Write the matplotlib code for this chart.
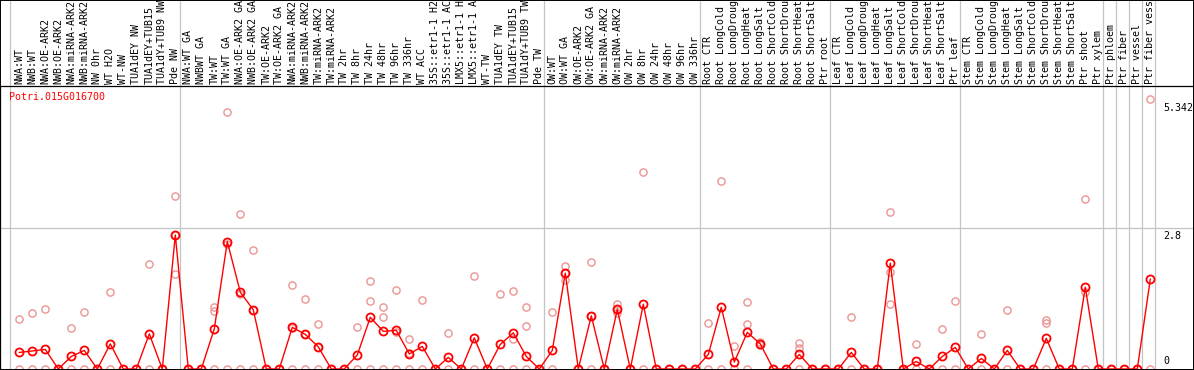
import numpy as np
import matplotlib
matplotlib.use("Agg")
import matplotlib.pyplot as plt
import matplotlib.transforms as mtransforms
from matplotlib.patches import Rectangle

nan = np.nan

# nombres de las muestras (como se ven, recortados)
Muestras = ["NWA:WT", "NWB:WT", "NWA:OE-ARK2", "NWB:OE-ARK2", "NWA:miRNA-ARK2",
            "NWB:miRNA-ARK2", "NW 0hr", "WT H2O", "WT-NW", "TUA1dEY NW",
            "TUA1dEY+TUB15", "TUA1dY+TUB9 NW", "Pde NW",
            "NWA:WT GA", "NWBWT GA", "TW:WT", "TW:WT GA", "NWA:OE-ARK2 GA",
            "NWB:OE-ARK2 GA", "TW:OE-ARK2", "TW:OE-ARK2 GA", "NWA:miRNA-ARK2",
            "NWB:miRNA-ARK2", "TW:miRNA-ARK2", "TW:miRNA-ARK2", "TW 2hr", "TW 8hr",
            "TW 24hr", "TW 48hr", "TW 96hr", "TW 336hr", "WT ACC", "35S::etr1-1 H2",
            "35S::etr1-1 AC", "LMX5::etr1-1 H", "LMX5::etr1-1 A", "WT-TW",
            "TUA1dEY TW", "TUA1dEY+TUB15", "TUA1dY+TUB9 TW", "Pde TW",
            "OW:WT", "OW:WT GA", "OW:OE-ARK2", "OW:OE-ARK2 GA", "OW:miRNA-ARK2",
            "OW:miRNA-ARK2", "OW 2hr", "OW 8hr", "OW 24hr", "OW 48hr", "OW 96hr",
            "OW 336hr",
            "Root CTR", "Root LongCold", "Root LongDroug", "Root LongHeat",
            "Root LongSalt", "Root ShortCold", "Root ShortDrou", "Root ShortHeat",
            "Root ShortSalt", "Ptr root",
            "Leaf CTR", "Leaf LongCold", "Leaf LongDroug", "Leaf LongHeat",
            "Leaf LongSalt", "Leaf ShortCold", "Leaf ShortDrou", "Leaf ShortHeat",
            "Leaf ShortSalt", "Ptr leaf",
            "Stem CTR", "Stem LongCold", "Stem LongDroug", "Stem LongHeat",
            "Stem LongSalt", "Stem ShortCold", "Stem ShortDrou", "Stem ShortHeat",
            "Stem ShortSalt", "Ptr shoot",
            "Ptr xylem", "Ptr phloem", "Ptr fiber", "Ptr vessel", "Ptr fiber vess"]

# promedio (linea roja)
Promedio = [0.33, 0.36, 0.39, 0, 0.25, 0.37, 0, 0.50, 0, 0, 0.70, 0, 2.67,
            0, 0, 0.80, 2.54, 1.53, 1.18, 0, 0, 0.83, 0.69, 0.44, 0, 0, 0.28,
            1.03, 0.75, 0.77, 0.30, 0.45, 0, 0.23, 0, 0.62, 0, 0.49, 0.72, 0.25, 0,
            0.37, 1.91, 0, 1.06, 0, 1.19, 0, 1.29, 0, 0, 0, 0,
            0.29, 1.23, 0.14, 0.73, 0.50, 0, 0, 0.29, 0, 0,
            0, 0.33, 0, 0, 2.11, 0, 0.15, 0, 0.25, 0.43,
            0, 0.21, 0, 0.37, 0, 0, 0.61, 0, 0, 1.63,
            0, 0, 0, 0, 1.79]

# replicas (circulos rosados)
Replica1 = [0.99, 1.11, 1.20, nan, 0.82, 1.13, nan, 1.53, nan, nan, 2.09, nan, 3.44,
            nan, nan, 1.24, 5.12, 3.09, 2.37, nan, nan, 1.67, 1.39, 0.89, nan, nan, 0.83,
            1.75, 1.23, 1.57, 0.59, 1.37, nan, 0.71, nan, 1.86, nan, 1.49, 1.55, 1.24, nan,
            1.13, 2.05, nan, 2.13, nan, 1.29, nan, 3.92, nan, nan, nan, nan,
            0.92, 3.74, 0.45, 1.33, 0.53, nan, nan, 0.51, nan, nan,
            nan, 1.03, nan, nan, 3.12, nan, 0.49, nan, 0.79, 1.35,
            nan, 0.69, nan, 1.17, nan, nan, 0.97, nan, nan, 3.38,
            nan, nan, nan, nan, 5.39]
Replica2 = [nan, nan, nan, nan, nan, nan, nan, nan, nan, nan, nan, nan, 1.89,
            nan, nan, 1.16, 2.50, 1.50, 1.17, nan, nan, 0.82, 0.69, 0.43, nan, nan, nan,
            1.35, 1.03, 0.74, 0.31, nan, nan, nan, nan, nan, nan, nan, 0.60, 0.86, nan,
            nan, 1.77, nan, 1.05, nan, 1.11, nan, nan, nan, nan, nan, nan,
            nan, nan, nan, 0.89, 0.49, nan, nan, 0.41, nan, nan,
            nan, nan, nan, nan, 1.93, nan, nan, nan, nan, nan,
            nan, nan, nan, nan, nan, nan, 0.91, nan, nan, 1.53,
            nan, nan, nan, nan, nan]
Replica3 = [0, 0, 0, 0, 0, 0, 0, 0, 0, 0, 0, 0, 2.68,
            0, 0, 0, 0, 0, 0, 0, 0, 0, 0, 0, 0, 0, 0,
            0, 0, 0, 0, 0, 0, 0, 0, 0, 0, 0, 0, 0, 0,
            0, 1.91, 0, 0, 0, 1.17, 0, 0, 0, 0, 0, 0,
            0, 0, 0, 0, 0.48, 0, 0, 0, 0, 0,
            0, 0, 0, 0, 1.29, 0, 0, 0, 0, 0,
            0, 0, 0, 0, 0, 0, 0, 0, 0, 0,
            0, 0, 0, 0, 0]

# separadores de grupos (indice de la ultima muestra de cada grupo)
FinGrupo = [12, 40, 52, 62, 72, 83, 84, 85, 86, 87]
Marcas = [0, 2.8, 5.342]
Gen = "Potri.015G016700"

W, H = 1194, 370
fig = plt.figure(figsize=(W / 100, H / 100), dpi=100)
ax = fig.add_axes([0, 0.5 / H, 1, 284 / H])

Fuente = "DejaVu Sans Mono"
Gris = "#c4c4c4"
x = np.arange(len(Muestras))

ax.set_xlim((0 - 19.3) / 13, (W - 19.3) / 13)
ax.set_ylim(-0.5 / 50.18, (369 - 85.5) / 50.18)
ax.set_xticks([])
ax.set_yticks([])
for s in ax.spines.values():
    s.set_color("black")
    s.set_linewidth(0.9)

# lineas grises
ax.axhline(2.8, color=Gris, lw=0.9, zorder=1)
ymax = 369.5 / 284
ax.axvline(-9 / 13, ymin=0, ymax=ymax, color=Gris, lw=0.9, clip_on=False, zorder=1)
for g in FinGrupo:
    ax.axvline(g + 5 / 13, ymin=0, ymax=ymax, color=Gris, lw=0.9, clip_on=False, zorder=1)

# replicas
for Rep in [Replica3, Replica2, Replica1]:
    ax.plot(x, Rep, ls="none", marker="o", ms=5.2, mfc="none", mec="#eb9494",
            mew=1.0, zorder=2)

# promedio
ax.plot(x, Promedio, color="red", lw=1.0, marker="o", ms=5.8, mfc="none",
        mec="red", mew=1.3, zorder=3)

# etiquetas verticales
trans = mtransforms.blended_transform_factory(ax.transData, ax.transAxes)
for i, nombre in enumerate(Muestras):
    ax.text(i, 1 + 2 / 284, nombre, transform=trans, rotation=90, ha="center",
            va="bottom", fontsize=7.2, family=Fuente, clip_on=False)

# eje derecho
trans2 = mtransforms.blended_transform_factory(ax.transAxes, ax.transData)
for m in Marcas:
    etiqueta = "%g" % m
    if m == 0:
        ax.text(1163 / W, 0.05, etiqueta, transform=trans2, ha="left", va="bottom",
                fontsize=7.2, family=Fuente)
    else:
        ax.text(1163 / W, m - 0.04, etiqueta, transform=trans2, ha="left", va="top",
                fontsize=7.2, family=Fuente)

fig.text(9.5 / W, 1 - 92.5 / H, Gen, color="red", ha="left", va="top",
         fontsize=7.2, family=Fuente)

# borde de la figura
fig.patches.append(Rectangle((0, 0), 1, 1, transform=fig.transFigure, fill=False,
                             edgecolor="black", lw=1.4))

fig.savefig("out.png", dpi=100)
